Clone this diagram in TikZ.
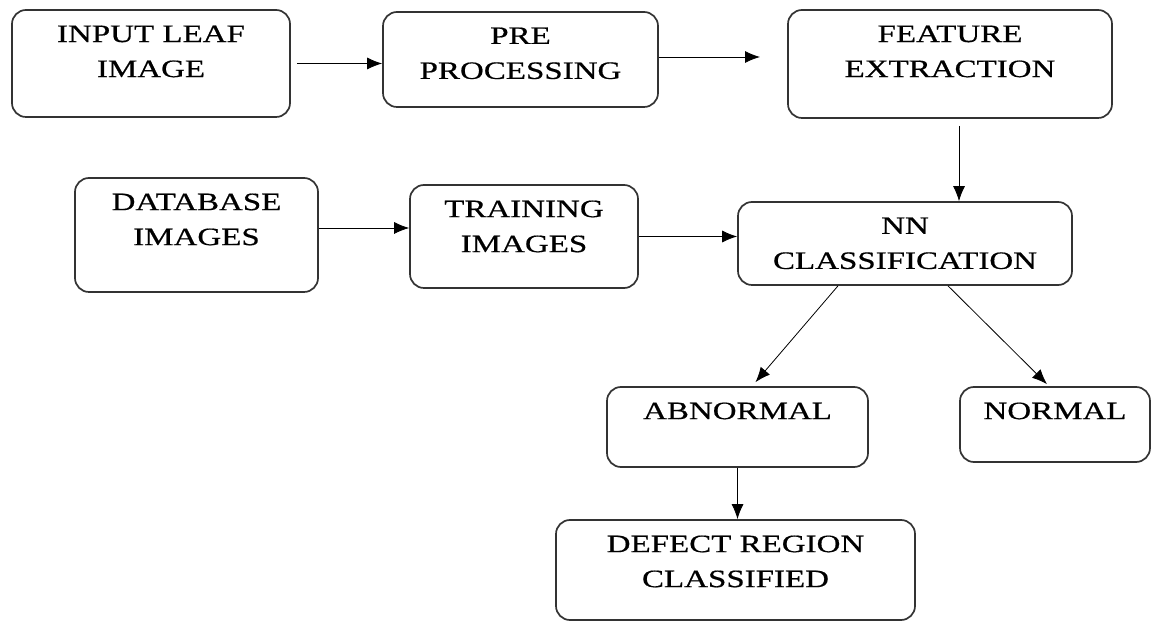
\documentclass[tikz,border=0pt]{standalone}
\usepackage{fontspec}
\setmainfont{Liberation Serif}[FakeStretch=1.32,FakeBold=0.6]
\usepackage{tikz}
\usetikzlibrary{positioning}
\usetikzlibrary{arrows.meta}

\tikzset{
	box/.style={draw=black!80,line width=0.85pt,rounded corners=7pt,inner sep=0pt},
	lbl/.style={align=center,inner sep=0pt,font=\fontsize{12.5}{17.5}\selectfont}
}

\begin{document}
\begin{tikzpicture}[x=0.5pt,y=-0.5pt,every path/.style={>={Latex[length=7.5pt,width=6pt]}}]
		\useasboundingbox (0,0) rectangle (1156,624);

		% draw top row
		\node (input) at (151,63.5) [box,minimum width=139pt,minimum height=53.5pt] {};
		\node (pre) at (520.5,59.5) [box,minimum width=137.5pt,minimum height=47.5pt] {};
		\node (feat) at (950,64) [box,minimum width=162pt,minimum height=54pt] {};
		\node [lbl,below=8pt of input.north] {INPUT LEAF\\IMAGE};
		\node [lbl,below=8pt of pre.north] {PRE\\PROCESSING};
		\node [lbl,below=8pt of feat.north] {FEATURE\\EXTRACTION};

		% draw middle row
		\node (db) at (196.5,235) [box,minimum width=121.5pt,minimum height=57pt] {};
		\node (train) at (524,236.5) [box,minimum width=114pt,minimum height=51.5pt] {};
		\node (nn) at (905,243.5) [box,minimum width=167pt,minimum height=41.5pt] {};
		\node [lbl,below=8pt of db.north] {DATABASE\\IMAGES};
		\node [lbl,below=8pt of train.north] {TRAINING\\IMAGES};
		\node [lbl,below=8pt of nn.north] {NN\\CLASSIFICATION};

		% draw results
		\node (abn) at (737.5,427) [box,minimum width=130.5pt,minimum height=40pt] {};
		\node (norm) at (1055,424.5) [box,minimum width=95pt,minimum height=37.5pt] {};
		\node (defect) at (735.5,570) [box,minimum width=179.5pt,minimum height=50pt] {};
		\node [lbl,below=8pt of abn.north] {ABNORMAL};
		\node [lbl,below=8pt of norm.north] {NORMAL};
		\node [lbl,below=8pt of defect.north] {DEFECT REGION\\CLASSIFIED};

		% free end of the arrow towards feature extraction
		\coordinate (featin) at (760,57);

		% draw arrows
		\draw[->,shorten <=3pt] (input.east) -- (input.east -| pre.west);
		\draw[->] (pre.east |- featin) -- (featin);
		\draw[->,shorten <=3.5pt] ([xshift=4.5pt]feat.south) -- ([xshift=4.5pt]feat.south |- nn.north);
		\draw[->] ([yshift=3.5pt]db.east) -- ([yshift=3.5pt]db.east -| train.west);
		\draw[->] (train.east) -- (train.east -| nn.west);
		\draw[->] ([xshift=-33.5pt]nn.south) -- ([xshift=9pt,yshift=2pt]abn.north);
		\draw[->] ([xshift=21.5pt]nn.south) -- ([xshift=-4pt,yshift=1pt]norm.north);
		\draw[->] (abn.south) -- (abn.south |- defect.north);
	\end{tikzpicture}
\end{document}
